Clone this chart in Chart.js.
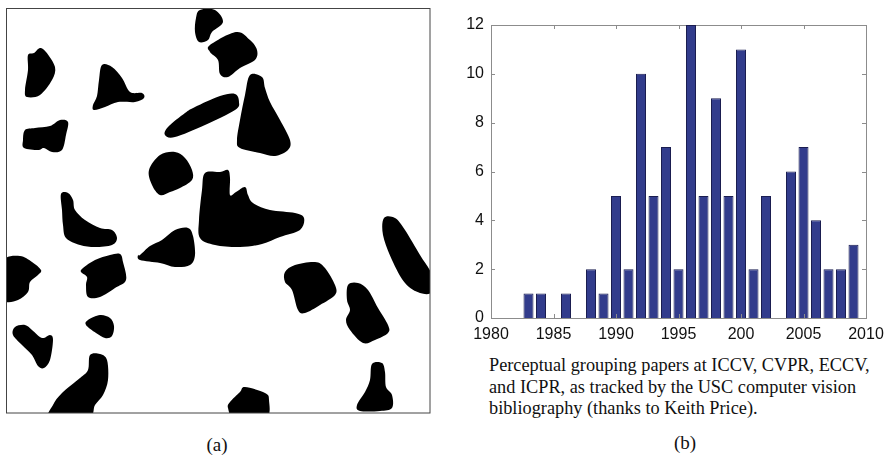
<!DOCTYPE html>
<html>
<head>
<meta charset="utf-8">
<script src="https://cdn.jsdelivr.net/npm/chart.js@4.4.1/dist/chart.umd.min.js"></script>
<style>
  html, body { margin: 0; padding: 0; background: #fff; }
  body { width: 887px; height: 458px; position: relative; overflow: hidden; }
  #blobs { position: absolute; left: 0; top: 0; }
  #wrap { position: absolute; left: 440px; top: 0; width: 447px; height: 345px; }
  .cap { position: absolute; font-family: "Liberation Serif", "Times New Roman", serif; color: #111; }
  #caption { left: 489px; top: 355px; font-size: 18.3px; line-height: 21.5px; white-space: nowrap; }
  #la { left: 192px; top: 434px; width: 50px; text-align: center; font-size: 19px; }
  #lb { left: 660px; top: 432px; width: 50px; text-align: center; font-size: 19px; }
</style>
</head>
<body>
<svg id="blobs" width="440" height="458" xmlns="http://www.w3.org/2000/svg">
  <defs><clipPath id="box"><rect x="6" y="8" width="424" height="405"/></clipPath></defs>
  <g id="blobg" clip-path="url(#box)" fill="#000"></g>
  <rect x="6.5" y="8.5" width="423.5" height="404.5" fill="none" stroke="#444" stroke-width="1"/>
</svg>
<div id="wrap"><canvas id="c" width="447" height="345"></canvas></div>
<div id="caption" class="cap">Perceptual grouping papers at ICCV, CVPR, ECCV,<br>and ICPR, as tracked by the USC computer vision<br>bibliography (thanks to Keith Price).</div>
<div id="la" class="cap">(a)</div>
<div id="lb" class="cap">(b)</div>
<script>
// ---- data ----
const years = [1983,1984,1985,1986,1987,1988,1989,1990,1991,1992,1993,1994,1995,1996,1997,1998,1999,2000,2001,2002,2003,2004,2005,2006,2007,2008,2009];
const papers = [1,1,0,1,0,2,1,5,2,10,5,7,2,12,5,9,5,11,2,5,0,6,7,4,2,2,3];
const xTickLabels = ['1980','1985','1990','1995','200','2005','2010'];
const yTickValues = [0,2,4,6,8,10,12];

// ---- left illustration (blob shapes, panel a) ----
const blobShapes = [
  [[200,10],[215,10],[223,22],[212,32],[208,40],[199,42],[195,32],[196,18]],
  [[210,45],[236,32],[250,40],[257,50],[255,60],[240,68],[228,77],[220,74],[218,60],[210,52]],
  [[28,55],[34,53],[40,48],[46,52],[55,67],[52,80],[40,95],[27,97],[25,90],[28,70]],
  [[102,65],[112,67],[122,78],[130,92],[142,93],[144,98],[135,102],[118,102],[105,107],[94,110],[93,105],[97,96],[99,80]],
  [[25,130],[35,128],[50,126],[60,120],[68,122],[66,135],[62,150],[52,152],[44,148],[38,150],[24,148],[23,140]],
  [[168,127],[185,113],[195,107],[220,96],[235,94],[239,102],[235,110],[205,125],[175,137],[165,135]],
  [[250,75],[262,77],[265,88],[270,102],[280,120],[290,140],[288,150],[275,156],[260,153],[240,148],[237,140],[240,120],[245,95]],
  [[160,155],[175,152],[185,158],[192,170],[192,180],[180,188],[170,192],[160,195],[152,185],[149,170]],
  [[205,173],[220,172],[228,170],[230,178],[230,195],[236,192],[245,187],[248,195],[253,203],[270,210],[295,213],[304,218],[300,230],[280,237],[262,244],[240,247],[215,245],[200,238],[199,220],[202,190]],
  [[61,194],[68,193],[73,200],[75,210],[85,220],[100,228],[112,230],[117,238],[112,245],[95,247],[80,245],[66,238],[63,225],[62,210]],
  [[140,255],[150,246],[162,240],[175,230],[188,228],[193,236],[195,255],[190,265],[175,267],[160,263],[140,260],[138,255]],
  [[4,260],[20,256],[32,262],[41,270],[38,275],[30,282],[28,292],[18,300],[5,301],[3,285]],
  [[83,268],[95,260],[110,255],[120,254],[123,262],[126,280],[115,288],[100,297],[88,297],[86,285],[87,277],[81,272]],
  [[384,218],[395,218],[405,230],[420,255],[432,275],[432,292],[420,293],[405,283],[392,260],[383,235]],
  [[285,272],[295,265],[315,262],[325,268],[335,285],[335,295],[320,305],[305,313],[298,310],[292,290],[285,282]],
  [[348,285],[358,283],[368,290],[378,308],[388,325],[388,333],[375,340],[363,343],[350,330],[346,320],[350,310],[347,300]],
  [[88,320],[100,315],[110,318],[114,326],[112,336],[105,338],[96,333],[86,325]],
  [[15,327],[25,325],[32,330],[42,338],[50,335],[53,340],[50,360],[44,368],[38,366],[32,355],[22,345],[13,335]],
  [[90,355],[100,354],[107,360],[108,380],[103,395],[95,405],[88,418],[50,418],[53,405],[62,393],[80,378],[88,370]],
  [[230,402],[240,392],[245,387],[265,393],[269,400],[266,418],[235,418],[228,408]],
  [[372,364],[382,363],[385,372],[386,387],[392,395],[392,408],[380,411],[360,411],[357,405],[365,392],[370,380]]
];
function blobPath(pts) {
  const n = pts.length;
  let d = 'M' + pts[0][0] + ',' + pts[0][1];
  for (let i = 0; i < n; i++) {
    const p0 = pts[(i - 1 + n) % n], p1 = pts[i], p2 = pts[(i + 1) % n], p3 = pts[(i + 2) % n];
    const c1 = [p1[0] + (p2[0] - p0[0]) / 6, p1[1] + (p2[1] - p0[1]) / 6];
    const c2 = [p2[0] - (p3[0] - p1[0]) / 6, p2[1] - (p3[1] - p1[1]) / 6];
    d += ' C' + c1.join(',') + ' ' + c2.join(',') + ' ' + p2.join(',');
  }
  return d + 'Z';
}
const g = document.getElementById('blobg');
blobShapes.forEach(s => {
  const p = document.createElementNS('http://www.w3.org/2000/svg', 'path');
  p.setAttribute('d', blobPath(s));
  g.appendChild(p);
});

// ---- chart ----
Chart.defaults.font.family = "'Liberation Sans', Arial, sans-serif";
Chart.defaults.font.size = 16;
Chart.defaults.color = '#111';
const AXIS = '#8c8c8c';
const inwardTicks = {
  id: 'inwardTicks',
  afterDraw(chart) {
    const { ctx, chartArea: a, scales } = chart;
    ctx.save();
    ctx.strokeStyle = AXIS;
    ctx.lineWidth = 1;
    ctx.beginPath();
    scales.x.ticks.forEach(t => {
      const px = Math.round(scales.x.getPixelForValue(t.value)) + 0.5;
      ctx.moveTo(px, a.bottom); ctx.lineTo(px, a.bottom - 4);
      ctx.moveTo(px, a.top); ctx.lineTo(px, a.top + 4);
    });
    scales.y.ticks.forEach(t => {
      const py = Math.round(scales.y.getPixelForValue(t.value)) + 0.5;
      ctx.moveTo(a.left, py); ctx.lineTo(a.left + 4, py);
      ctx.moveTo(a.right, py); ctx.lineTo(a.right - 4, py);
    });
    ctx.stroke();
    ctx.restore();
  }
};

new Chart(document.getElementById('c'), {
  type: 'bar',
  data: {
    datasets: [{
      data: years.map((yr, i) => ({ x: yr, y: papers[i] })),
      backgroundColor: '#323c8c',
      borderColor: '#1a1d50',
      borderWidth: 1,
      barPercentage: 0.8,
      categoryPercentage: 1.0
    }]
  },
  options: {
    responsive: false,
    animation: false,
    devicePixelRatio: 1,
    layout: { padding: { top: 25, right: 21, left: 0, bottom: 0 } },
    plugins: { legend: { display: false }, tooltip: { enabled: false } },
    scales: {
      x: {
        type: 'linear', min: 1980, max: 2010, offset: false,
        afterBuildTicks: s => { s.ticks = xTickLabels.map((_, i) => ({ value: 1980 + 5 * i })); },
        ticks: {
          callback: (v, i) => xTickLabels[i],
          font: { family: "'Liberation Sans', Arial, sans-serif", size: 16 },
          color: '#111', padding: 0, maxRotation: 0, autoSkip: false
        },
        grid: { display: false, drawTicks: true, tickLength: 7, offset: false },
        border: { display: true, color: AXIS, width: 1 },
        afterFit: s => { s.height = 27; }
      },
      x2: {
        type: 'linear', position: 'top', min: 1980, max: 2010, offset: false,
        ticks: { display: false }, grid: { display: false, drawTicks: false },
        border: { display: true, color: AXIS, width: 1 },
        afterFit: s => { s.height = 0; }
      },
      y: {
        min: 0, max: 12,
        afterBuildTicks: s => { s.ticks = yTickValues.map(v => ({ value: v })); },
        ticks: {
          font: { family: "'Liberation Sans', Arial, sans-serif", size: 16 },
          color: '#111', padding: 7
        },
        grid: { display: false, drawTicks: false },
        border: { display: true, color: AXIS, width: 1 },
        afterFit: s => { s.width = 51; }
      },
      y2: {
        position: 'right', min: 0, max: 12,
        ticks: { display: false }, grid: { display: false, drawTicks: false },
        border: { display: true, color: AXIS, width: 1 },
        afterFit: s => { s.width = 0; }
      }
    }
  },
  plugins: [inwardTicks]
});
</script>
</body>
</html>
